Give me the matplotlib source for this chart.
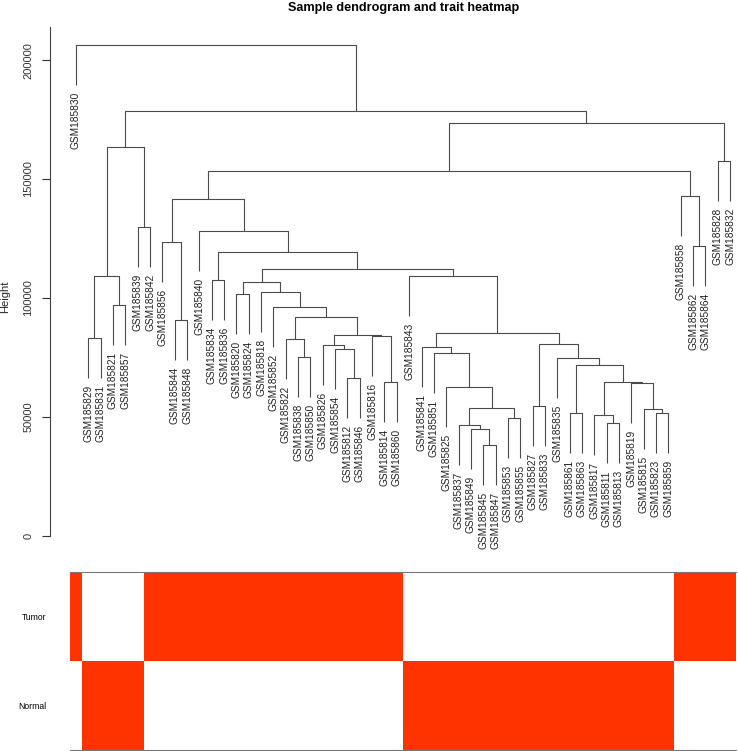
import matplotlib
matplotlib.use("Agg")
from matplotlib import pyplot as plt
from matplotlib.colors import ListedColormap
import numpy as np

plt.rcParams["font.family"] = ["Liberation Sans", "DejaVu Sans"]

# sample order along the dendrogram (left to right)
leaves = ["GSM185830", "GSM185829", "GSM185831", "GSM185821", "GSM185857",
          "GSM185839", "GSM185842", "GSM185856", "GSM185844", "GSM185848",
          "GSM185840", "GSM185834", "GSM185836", "GSM185820", "GSM185824",
          "GSM185818", "GSM185852", "GSM185822", "GSM185838", "GSM185850",
          "GSM185826", "GSM185854", "GSM185812", "GSM185846", "GSM185816",
          "GSM185814", "GSM185860", "GSM185843", "GSM185841", "GSM185851",
          "GSM185825", "GSM185837", "GSM185849", "GSM185845", "GSM185847",
          "GSM185853", "GSM185855", "GSM185827", "GSM185833", "GSM185835",
          "GSM185861", "GSM185863", "GSM185817", "GSM185811", "GSM185813",
          "GSM185819", "GSM185815", "GSM185823", "GSM185859", "GSM185858",
          "GSM185862", "GSM185864", "GSM185828", "GSM185832"]

# trait: 1 = tumor, 0 = normal (same order as leaves)
tumor = [1, 0, 0, 0, 0, 0, 1, 1, 1, 1,
         1, 1, 1, 1, 1, 1, 1, 1, 1, 1,
         1, 1, 1, 1, 1, 1, 1, 0, 0, 0,
         0, 0, 0, 0, 0, 0, 0, 0, 0, 0,
         0, 0, 0, 0, 0, 0, 0, 0, 0, 1,
         1, 1, 1, 1]

# merges: leaf name or index of an earlier merge
merges = [
    ("GSM185829", "GSM185831"), ("GSM185821", "GSM185857"), (0, 1),
    ("GSM185839", "GSM185842"), (2, 3),
    ("GSM185844", "GSM185848"), ("GSM185856", 5),
    ("GSM185834", "GSM185836"), ("GSM185820", "GSM185824"),
    ("GSM185838", "GSM185850"), ("GSM185822", 9),
    ("GSM185812", "GSM185846"), ("GSM185854", 11), ("GSM185826", 12),
    ("GSM185814", "GSM185860"), ("GSM185816", 14), (13, 15), (10, 16),
    ("GSM185852", 17), ("GSM185818", 18), (8, 19),
    ("GSM185845", "GSM185847"), ("GSM185849", 21), ("GSM185837", 22),
    ("GSM185853", "GSM185855"), (23, 24), ("GSM185825", 25),
    ("GSM185851", 26), ("GSM185841", 27),
    ("GSM185827", "GSM185833"), ("GSM185861", "GSM185863"),
    ("GSM185811", "GSM185813"), ("GSM185817", 31),
    ("GSM185823", "GSM185859"), ("GSM185815", 33), ("GSM185819", 34),
    (32, 35), (30, 36), ("GSM185835", 37), (29, 38), (28, 39),
    ("GSM185843", 40), (20, 41), (7, 42), ("GSM185840", 43), (6, 44),
    ("GSM185862", "GSM185864"), ("GSM185858", 46), (45, 47),
    ("GSM185828", "GSM185832"), (48, 49), (4, 50), ("GSM185830", 51),
]
heights = [
    83200, 97100, 109400, 130000, 163300,
    90800, 123400,
    107600, 101600,
    75300, 82600,
    66300, 78400, 80300,
    64800, 84000, 84500, 92100,
    96300, 102400, 106600,
    38200, 44800, 46600,
    49500, 53700, 62500,
    77000, 79500,
    54700, 51800,
    47400, 50700,
    51600, 53200, 64200,
    64800, 71800, 74900, 80500, 85200,
    109200, 112100, 119500, 128300, 141500,
    122000, 143000, 153200,
    157700, 173700, 178600, 206300,
]

W, H = 738, 751
fig = plt.figure(figsize=(W / 100, H / 100), dpi=100)

x0, x1 = 69.8, 736.2          # pixel span of the 54 columns
ax = fig.add_axes([x0 / W, 1 - 536 / H, (x1 - x0) / W, (536 - 22) / H])
ax.set_xlim(-0.5, len(leaves) - 0.5)
ax.set_ylim(0, 216000)

line_col = "#4a4a4a"
hang = 16800
xpos = {name: i for i, name in enumerate(leaves)}
node_x, node_h = [], []
for (a, b), h in zip(merges, heights):
    xs, ys = [], []
    for c in (a, b):
        if isinstance(c, str):
            cx, ch = xpos[c], h - hang
            ax.annotate(c, (cx, ch), xytext=(0, -5), textcoords="offset points",
                        rotation=90, ha="center", va="top", fontsize=7.3,
                        color="#222222", annotation_clip=False)
        else:
            cx, ch = node_x[c], node_h[c]
        xs.append(cx)
        ys.append(ch)
    ax.plot([xs[0], xs[0], xs[1], xs[1]], [ys[0], h, h, ys[1]],
            color=line_col, lw=0.8, solid_capstyle="butt")
    node_x.append((xs[0] + xs[1]) / 2)
    node_h.append(h)

for s in ["top", "right", "bottom"]:
    ax.spines[s].set_visible(False)
ax.spines["left"].set_position(("outward", 14.3))
ax.spines["left"].set_bounds(0, 214000)
ax.spines["left"].set_color("#444444")
ax.set_xticks([])
ax.set_yticks([0, 50000, 100000, 150000, 200000])
ax.set_yticklabels(["0", "50000", "100000", "150000", "200000"])
ax.tick_params(axis="y", labelrotation=90, length=6, width=0.8, pad=6,
               labelsize=8, colors="#333333")
for t in ax.get_yticklabels():
    t.set_va("center")

fig.text(5 / W, 1 - 297 / H, "Height", rotation=90, ha="center", va="center",
         fontsize=8, color="#222222")
fig.text(404 / W, 1 - 8 / H, "Sample dendrogram and trait heatmap",
         ha="center", va="center", fontsize=9.1, fontweight="bold")

# trait heatmap under the tree
normal = [1 - t for t in tumor]
axh = fig.add_axes([x0 / W, 1 - 750 / H, (x1 - x0) / W, 178 / H])
axh.pcolormesh(np.arange(len(leaves) + 1) - 0.5, [0, 1, 2],
               np.array([tumor, normal]),
               cmap=ListedColormap(["white", "#ff3300"]), vmin=0, vmax=1)
axh.set_xlim(-0.5, len(leaves) - 0.5)
axh.set_ylim(2, 0)
axh.set_xticks([])
axh.set_yticks([0.5, 1.5])
axh.set_yticklabels(["Tumor", "Normal"])
axh.tick_params(axis="y", length=0, pad=17, labelsize=6.2)
for s in ["left", "right"]:
    axh.spines[s].set_visible(False)
for s in ["top", "bottom"]:
    axh.spines[s].set_color("#777777")
    axh.spines[s].set_linewidth(0.8)

fig.savefig("out.png", dpi=100)
